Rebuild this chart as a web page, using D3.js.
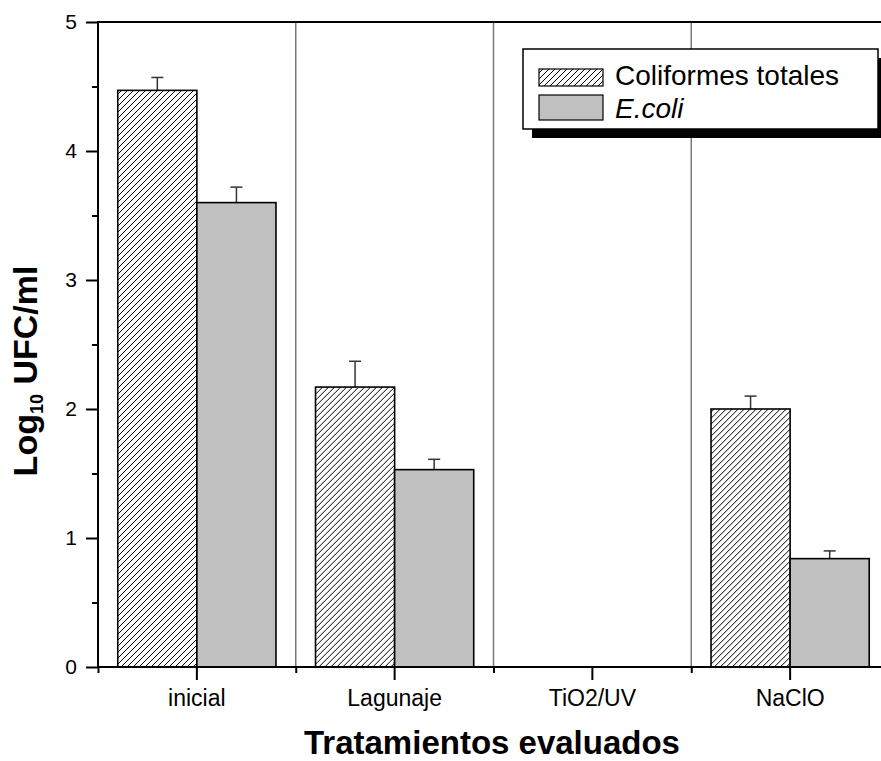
<!DOCTYPE html>
<html>
<head>
<meta charset="utf-8">
<script src="https://cdn.jsdelivr.net/npm/d3@7"></script>
<style>
  html, body { margin: 0; padding: 0; background: #fff; }
  svg { display: block; font-family: "Liberation Sans", Arial, sans-serif; }
</style>
</head>
<body>
<svg id="chart" width="881" height="761"></svg>
<script>
// ---- data ----
const categories = ["inicial", "Lagunaje", "TiO2/UV", "NaClO"];
const coliformes = [4.47, 2.17, 0, 2.0];
const coliformesErr = [0.10, 0.20, 0, 0.10];
const ecoli = [3.60, 1.53, 0, 0.84];
const ecoliErr = [0.12, 0.08, 0, 0.06];
const seriesNames = ["Coliformes totales", "E.coli"];
const yTicks = [0, 1, 2, 3, 4, 5];
const yMinorTicks = [0.5, 1.5, 2.5, 3.5, 4.5];

(function () {
// ---- layout ----
const svg = d3.select("#chart");
const mLeft = 98, mTop = 22, mBottom = 667, rightRange = 889;

const x = d3.scaleBand().domain(categories).range([mLeft, rightRange]).paddingInner(0).paddingOuter(0);
const xInner = d3.scaleBand().domain(seriesNames).range([0, x.bandwidth()]).paddingInner(0).paddingOuter(0.25);
const y = d3.scaleLinear().domain([0, 5]).range([mBottom, mTop]);

// hatch pattern
const defs = svg.append("defs");
const pat = defs.append("pattern")
  .attr("id", "hatch").attr("patternUnits", "userSpaceOnUse")
  .attr("width", 6).attr("height", 6);
pat.append("rect").attr("width", 6).attr("height", 6).attr("fill", "#fff");
pat.append("path")
  .attr("d", "M0,6 L6,0 M-1.5,1.5 L1.5,-1.5 M4.5,7.5 L7.5,4.5")
  .attr("stroke", "#000").attr("stroke-width", 1);

// separators between categories
svg.append("g").selectAll("line")
  .data(categories.slice(1))
  .join("line")
  .attr("x1", d => x(d)).attr("x2", d => x(d))
  .attr("y1", mTop).attr("y2", mBottom)
  .attr("stroke", "#7a7a7a").attr("stroke-width", 1.5);

// bars
const rows = categories.map((c, i) => ({
  cat: c,
  vals: [
    { s: seriesNames[0], v: coliformes[i], e: coliformesErr[i] },
    { s: seriesNames[1], v: ecoli[i], e: ecoliErr[i] }
  ]
}));
const fills = { "Coliformes totales": "url(#hatch)", "E.coli": "#c0c0c0" };

const groups = svg.append("g").selectAll("g")
  .data(rows).join("g")
  .attr("transform", d => `translate(${x(d.cat)},0)`);

// error bars (behind bars)
groups.selectAll("g.err")
  .data(d => d.vals.filter(v => v.v > 0))
  .join("g").attr("class", "err")
  .each(function (d) {
    const g = d3.select(this);
    const cx = xInner(d.s) + xInner.bandwidth() / 2;
    g.append("line").attr("x1", cx).attr("x2", cx)
      .attr("y1", y(d.v)).attr("y2", y(d.v + d.e))
      .attr("stroke", "#333").attr("stroke-width", 1.5);
    g.append("line").attr("x1", cx - 6).attr("x2", cx + 6)
      .attr("y1", y(d.v + d.e)).attr("y2", y(d.v + d.e))
      .attr("stroke", "#333").attr("stroke-width", 1.5);
  });

groups.selectAll("rect")
  .data(d => d.vals.filter(v => v.v > 0))
  .join("rect")
  .attr("x", d => xInner(d.s))
  .attr("width", xInner.bandwidth())
  .attr("y", d => y(d.v))
  .attr("height", d => y(0) - y(d.v))
  .attr("fill", d => fills[d.s])
  .attr("stroke", "#000").attr("stroke-width", 1.6);

// ---- axes ----
const yAxis = d3.axisLeft(y).tickValues(yTicks).tickSize(12).tickPadding(9).tickFormat(d3.format("d"));
const gy = svg.append("g").attr("transform", `translate(${mLeft},0)`).call(yAxis);
gy.select(".domain").remove();
gy.selectAll(".tick line").attr("stroke", "#000").attr("stroke-width", 2);
gy.selectAll(".tick text").attr("font-size", 21).attr("fill", "#000")
  .attr("font-family", "Liberation Sans, Arial, sans-serif");
const gym = svg.append("g").attr("transform", `translate(${mLeft},0)`)
  .call(d3.axisLeft(y).tickValues(yMinorTicks).tickSize(6).tickFormat(""));
gym.select(".domain").remove();
gym.selectAll(".tick line").attr("stroke", "#000").attr("stroke-width", 2);

// bottom axis major at category centers
const gx = svg.append("g").attr("transform", `translate(0,${mBottom})`)
  .call(d3.axisBottom(x).tickSize(13).tickPadding(10));
gx.select(".domain").remove();
gx.selectAll(".tick line").attr("stroke", "#000").attr("stroke-width", 2);
gx.selectAll(".tick text").attr("font-size", 23).attr("fill", "#000")
  .attr("font-family", "Liberation Sans, Arial, sans-serif");
// bottom minor ticks at category boundaries
const xEdge = d3.scaleLinear().domain([0, categories.length]).range([mLeft, rightRange]);
const gxm = svg.append("g").attr("transform", `translate(0,${mBottom})`)
  .call(d3.axisBottom(xEdge).tickValues(d3.range(0, categories.length)).tickSize(6).tickFormat(""));
gxm.select(".domain").remove();
gxm.selectAll(".tick line").attr("stroke", "#000").attr("stroke-width", 2);

// frame lines
svg.append("line").attr("x1", mLeft).attr("x2", 881).attr("y1", mBottom).attr("y2", mBottom)
  .attr("stroke", "#000").attr("stroke-width", 2);
svg.append("line").attr("x1", mLeft).attr("x2", 881).attr("y1", mTop).attr("y2", mTop)
  .attr("stroke", "#000").attr("stroke-width", 2);
svg.append("line").attr("x1", mLeft).attr("x2", mLeft).attr("y1", mTop - 1).attr("y2", mBottom + 1)
  .attr("stroke", "#000").attr("stroke-width", 2);

// ---- axis titles ----
svg.append("text")
  .attr("x", 492).attr("y", 754)
  .attr("text-anchor", "middle")
  .attr("font-size", 33).attr("font-weight", "bold")
  .text("Tratamientos evaluados");

const yl = svg.append("text")
  .attr("transform", "translate(37,371) rotate(-90)")
  .attr("text-anchor", "middle")
  .attr("font-size", 34).attr("font-weight", "bold");
yl.append("tspan").text("Log");
yl.append("tspan").attr("font-size", 18).attr("dy", 6).text("10");
yl.append("tspan").attr("dy", -6).text(" UFC/ml");

// ---- legend ----
const lg = svg.append("g");
lg.append("rect").attr("x", 532).attr("y", 58).attr("width", 355).attr("height", 80).attr("fill", "#000");
lg.append("rect").attr("x", 523).attr("y", 49).attr("width", 355).attr("height", 80)
  .attr("fill", "#fff").attr("stroke", "#000").attr("stroke-width", 1.5);
lg.append("rect").attr("x", 539).attr("y", 69).attr("width", 64).attr("height", 17)
  .attr("fill", fills[seriesNames[0]]).attr("stroke", "#000").attr("stroke-width", 1.2);
lg.append("rect").attr("x", 539).attr("y", 95).attr("width", 64).attr("height", 25)
  .attr("fill", fills[seriesNames[1]]).attr("stroke", "#000").attr("stroke-width", 1.2);
lg.append("text").attr("x", 615).attr("y", 85).attr("font-size", 28).text(seriesNames[0]);
lg.append("text").attr("x", 615).attr("y", 118).attr("font-size", 28).attr("font-style", "italic").text(seriesNames[1]);
})();
</script>
</body>
</html>
